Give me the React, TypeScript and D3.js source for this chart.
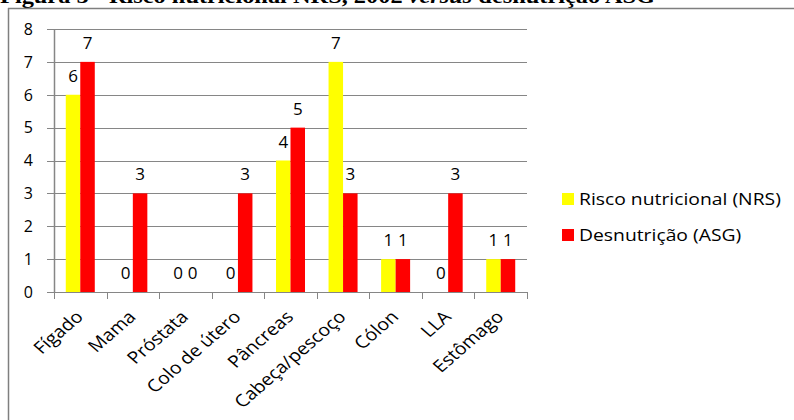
import React from "react";
import * as d3 from "d3";

const categories = ["Fígado", "Mama", "Próstata", "Colo de útero", "Pâncreas", "Cabeça/pescoço", "Cólon", "LLA", "Estômago"];
const riscoNRS = [6, 0, 0, 0, 4, 7, 1, 0, 1];
const desnutricaoASG = [7, 3, 0, 3, 5, 3, 1, 3, 1];
const yTicks = [0, 1, 2, 3, 4, 5, 6, 7, 8];
const seriesNames = ["Risco nutricional (NRS)", "Desnutrição (ASG)"];
const seriesColors = ["#FFFF00", "#FF0000"];
const showZeroRed = [false, false, true, false, false, false, false, false, false];

const W = 794;
const H = 420;
const FONT = "'Open Sans', sans-serif";
const GRID = "#868686";
const STRETCH = 1.15;

export default function App() {
  const x = d3.scaleBand<string>().domain(categories).range([54, 527]).paddingInner(0).paddingOuter(0);
  const y = d3.scaleLinear().domain([0, 8]).range([292, 29]);
  const bw = x.bandwidth() * 0.276;
  const bandEdges = categories.map((c) => x(c) as number).concat([x.range()[1]]);

  return (
    <svg width={W} height={H} style={{ position: "absolute", left: 0, top: 0, background: "#fff" }}>
      {/* figure caption, clipped at the top */}
      <text x={0} y={3} fontFamily="'Liberation Serif', serif" fontWeight="bold" fontSize={21} fill="#000" textLength={655} lengthAdjust="spacingAndGlyphs">
        Figura 5 - Risco nutricional NRS, 2002 <tspan fontStyle="italic">versus</tspan> desnutrição ASG
      </text>
      {/* frame */}
      <line x1={8} x2={W} y1={8.5} y2={8.5} stroke="#7f7f7f" strokeWidth={1.5} />
      <line x1={8.5} x2={8.5} y1={8} y2={H} stroke="#7f7f7f" strokeWidth={1.5} />

      {/* gridlines + y ticks */}
      {yTicks.map((t) => (
        <g key={t}>
          <line x1={47} x2={527} y1={Math.round(y(t)) + 0.5} y2={Math.round(y(t)) + 0.5} stroke={GRID} strokeWidth={1} />
          <text x={33} y={y(t)} dy="0.36em" textAnchor="end" fontFamily={FONT} fontSize={16} fill="#000">
            {t}
          </text>
        </g>
      ))}
      {/* y axis */}
      <line x1={54.5} x2={54.5} y1={y(8)} y2={y(0)} stroke={GRID} strokeWidth={1.5} />
      {/* x tick marks */}
      {bandEdges.map((e, i) => (
        <line key={i} x1={Math.round(e) + 0.5} x2={Math.round(e) + 0.5} y1={y(0)} y2={y(0) + 7} stroke={GRID} strokeWidth={1} />
      ))}

      {/* bars */}
      {categories.map((c, i) => {
        const cx = (x(c) as number) + x.bandwidth() / 2;
        return (
          <g key={c}>
            <rect x={cx - bw} y={y(riscoNRS[i])} width={bw} height={y(0) - y(riscoNRS[i])} fill={seriesColors[0]} />
            <rect x={cx} y={y(desnutricaoASG[i])} width={bw} height={y(0) - y(desnutricaoASG[i])} fill={seriesColors[1]} />
            <text x={cx - bw / 2} y={y(riscoNRS[i]) - 13} textAnchor="middle" fontFamily={FONT} fontSize={17} fill="#000">
              {riscoNRS[i]}
            </text>
            {(desnutricaoASG[i] > 0 || showZeroRed[i]) && (
              <text x={cx + bw / 2} y={y(desnutricaoASG[i]) - 13} textAnchor="middle" fontFamily={FONT} fontSize={17} fill="#000">
                {desnutricaoASG[i]}
              </text>
            )}
            <text
              transform={`translate(${cx + 4},${318}) scale(${STRETCH},1) rotate(-45)`}
              textAnchor="end"
              fontFamily={FONT}
              fontSize={17}
              fill="#000"
            >
              {c}
            </text>
          </g>
        );
      })}

      {/* legend */}
      {seriesNames.map((s, i) => (
        <g key={s} transform={`translate(562,${193 + i * 36})`}>
          <rect x={0} y={0} width={12} height={12} fill={seriesColors[i]} />
          <text transform={`translate(17,6) scale(${STRETCH},1)`} dy="0.36em" fontFamily={FONT} fontSize={16.8} fill="#000">
            {s}
          </text>
        </g>
      ))}
    </svg>
  );
}
